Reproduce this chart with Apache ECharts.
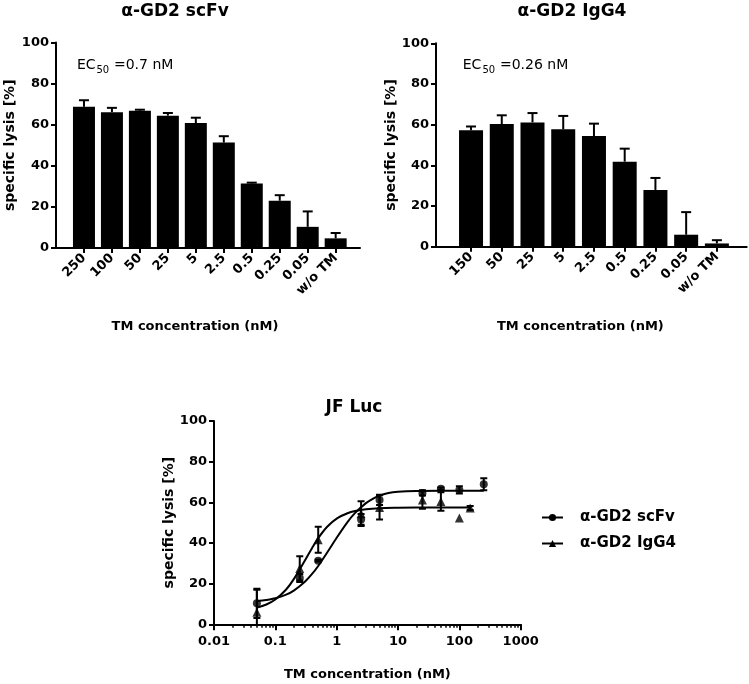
<!DOCTYPE html>
<html>
<head>
<meta charset="utf-8">
<script src="https://cdn.jsdelivr.net/npm/echarts@6/dist/echarts.min.js"></script>
<style>html,body{margin:0;padding:0;background:#fff}#c{width:749px;height:684px}</style>
</head>
<body>
<div id="c"></div>
<script>
// ---- Data ----
const cats1 = ['250','100','50','25','5','2.5','0.5','0.25','0.05','w/o TM'];
const scfvMean = [68.7, 66.1, 66.8, 64.4, 60.8, 51.3, 31.4, 23.0, 10.3, 4.7];
const scfvErr  = [3.2, 2.1, 0.5, 1.3, 2.6, 3.1, 0.4, 2.7, 7.5, 2.6];

const cats2 = ['150','50','25','5','2.5','0.5','0.25','0.05','w/o TM'];
const iggMean = [57.2, 60.3, 61.1, 57.7, 54.4, 41.8, 27.9, 5.9, 1.6];
const iggErr  = [1.9, 4.3, 4.6, 6.6, 6.1, 6.4, 5.9, 11.1, 1.6];

const scfvX = [0.05, 0.25, 0.5, 2.5, 5, 25, 50, 100, 250];
const scfvY = [10.3, 22.8, 31.3, 51.6, 61.2, 64.6, 66.7, 66.1, 68.9];
const scfvE = [7.2, 2.0, 0.4, 2.6, 2.5, 1.3, 0.6, 1.8, 3.0];

const iggX = [0.05, 0.25, 0.5, 2.5, 5, 25, 50, 100, 150];
const iggY = [5.9, 27.5, 41.6, 54.4, 57.5, 61.1, 60.4, 52.3, 57.2];
const iggE = [11.1, 6.0, 6.4, 6.1, 6.0, 4.3, 4.6, 0, 1.0];

const scfvFit = [[0.05,11.3],[0.07,11.9],[0.1,12.8],[0.15,14.6],[0.2,16.6],[0.3,20.8],[0.4,24.9],[0.5,28.7],[0.7,35.3],[1,42.6],[1.5,50.3],[2,54.8],[3,59.6],[4,62.0],[5,63.3],[7,64.6],[10,65.2],[20,65.6],[50,65.7],[100,65.7],[250,65.7]];
const iggFit = [[0.05,8.2],[0.07,9.6],[0.1,12.2],[0.15,17.1],[0.2,22.2],[0.3,31.1],[0.4,37.7],[0.5,42.4],[0.7,48.0],[1,52.0],[1.5,54.6],[2,55.7],[3,56.6],[5,57.1],[10,57.3],[20,57.4],[50,57.4],[150,57.4]];

// ---- Styles ----
const FF = 'DejaVu Sans';
const lblStyle = {fontFamily: FF, fontWeight: 'bold', fontSize: 13, color: '#000'};
const nameStyle = {fontFamily: FF, fontWeight: 'bold', fontSize: 13, color: '#000'};
const axLine = {show: true, onZero: false, lineStyle: {color: '#000', width: 2}};
const tickStyle = {color: '#000', width: 2};

const idx1 = cats1.map((c, i) => i);
const idx2 = cats2.map((c, i) => i);

const minorTicks = [];
for (let k = -2; k <= 2; k++) for (let m = 2; m <= 9; m++) minorTicks.push(+(m * Math.pow(10, k)).toPrecision(3));

function barErr(capW) {
  return function (params, api) {
    const x = api.value(0), m = api.value(1), e = api.value(2);
    const p0 = api.coord([x, m]);
    const p1 = api.coord([x, m + e]);
    const st = {stroke: '#000', lineWidth: 2};
    return {type: 'group', children: [
      {type: 'line', shape: {x1: p0[0], y1: p0[1], x2: p1[0], y2: p1[1]}, style: st},
      {type: 'line', shape: {x1: p1[0] - capW / 2, y1: p1[1], x2: p1[0] + capW / 2, y2: p1[1]}, style: st}
    ]};
  };
}
function symErr(capW) {
  return function (params, api) {
    const x = api.value(0), m = api.value(1), e = api.value(2);
    if (!e) return null;
    const lo = api.coord([x, m - e]);
    const hi = api.coord([x, m + e]);
    const st = {stroke: '#000', lineWidth: 2};
    return {type: 'group', children: [
      {type: 'line', shape: {x1: lo[0], y1: lo[1], x2: hi[0], y2: hi[1]}, style: st},
      {type: 'line', shape: {x1: hi[0] - capW / 2, y1: hi[1], x2: hi[0] + capW / 2, y2: hi[1]}, style: st},
      {type: 'line', shape: {x1: lo[0] - capW / 2, y1: lo[1], x2: lo[0] + capW / 2, y2: lo[1]}, style: st}
    ]};
  };
}

function yAxisDef(grid, gap) {
  return {
    gridIndex: grid, type: 'value', min: 0, max: 100, interval: 20,
    axisLine: axLine, axisTick: {show: true, length: 5, lineStyle: tickStyle},
    axisLabel: Object.assign({margin: 7}, lblStyle), splitLine: {show: false},
    name: 'specific lysis [%]', nameLocation: 'middle', nameGap: gap, nameTextStyle: Object.assign({}, nameStyle, {fontSize: 14})
  };
}

function txt(x, y, s, size, weight, align) {
  return {type: 'text', x: x, y: y, style: {text: s, fontFamily: FF, fontSize: size, fontWeight: weight, fill: '#000', align: align || 'left', verticalAlign: 'middle'}};
}

const option = {
  animation: false,
  backgroundColor: '#fff',
  grid: [
    {left: 56, top: 42.5, width: 304, height: 205.5, outerBoundsMode: 'none'},
    {left: 436, top: 43.3, width: 310.7, height: 203.4, outerBoundsMode: 'none'},
    {left: 214, top: 421, width: 306.7, height: 203.3, outerBoundsMode: 'none'}
  ],
  xAxis: [
    {gridIndex: 0, type: 'value', min: -1, max: 9.87,
      axisLine: axLine, axisTick: {show: true, customValues: idx1, length: 5, lineStyle: tickStyle},
      axisLabel: Object.assign({customValues: idx1, rotate: 45, margin: 8, formatter: v => cats1[Math.round(v)] || ''}, lblStyle),
      splitLine: {show: false},
      name: 'TM concentration (nM)', nameLocation: 'middle', nameGap: 72,
      nameTextStyle: Object.assign({padding: [0, 26, 0, 0]}, nameStyle)},
    {gridIndex: 1, type: 'value', min: -1.14, max: 8.97,
      axisLine: axLine, axisTick: {show: true, customValues: idx2, length: 5, lineStyle: tickStyle},
      axisLabel: Object.assign({customValues: idx2, rotate: 45, margin: 8, formatter: v => cats2[Math.round(v)] || ''}, lblStyle),
      splitLine: {show: false},
      name: 'TM concentration (nM)', nameLocation: 'middle', nameGap: 73,
      nameTextStyle: Object.assign({padding: [0, 22, 0, 0]}, nameStyle)},
    {gridIndex: 2, type: 'log', logBase: 10, min: 0.01, max: 1000, position: 'bottom',
      axisLine: axLine, axisTick: {show: true, length: 6, lineStyle: tickStyle},
      axisLabel: Object.assign({margin: 11, formatter: v => String(v)}, lblStyle),
      splitLine: {show: false}, minorTick: {show: false},
      name: 'TM concentration (nM)', nameLocation: 'middle', nameGap: 44, nameTextStyle: nameStyle},
    {gridIndex: 2, type: 'log', logBase: 10, min: 0.01, max: 1000, position: 'bottom',
      axisLine: {show: false}, axisLabel: {show: false}, splitLine: {show: false},
      axisTick: {show: true, customValues: minorTicks, length: 3.5, lineStyle: {color: '#000', width: 1.5}}}
  ],
  yAxis: [yAxisDef(0, 39), yAxisDef(1, 34), yAxisDef(2, 38)],
  legend: {
    data: ['α-GD2 scFv', 'α-GD2 IgG4'], orient: 'vertical', left: 536, top: 505,
    itemWidth: 21, itemHeight: 9, itemGap: 11, selectedMode: false,
    textStyle: {fontFamily: FF, fontWeight: 'bold', fontSize: 15, color: '#000', padding: [0, 0, 0, 12]}
  },
  series: [
    {type: 'bar', xAxisIndex: 0, yAxisIndex: 0, barWidth: 22, itemStyle: {color: '#000'},
      data: scfvMean.map((m, i) => [i, m])},
    {type: 'custom', xAxisIndex: 0, yAxisIndex: 0, z: 3, renderItem: barErr(10), encode: {x: 0, y: 1},
      data: scfvMean.map((m, i) => [i, m, scfvErr[i]])},
    {type: 'bar', xAxisIndex: 1, yAxisIndex: 1, barWidth: 24, itemStyle: {color: '#000'},
      data: iggMean.map((m, i) => [i, m])},
    {type: 'custom', xAxisIndex: 1, yAxisIndex: 1, z: 3, renderItem: barErr(10), encode: {x: 0, y: 1},
      data: iggMean.map((m, i) => [i, m, iggErr[i]])},
    {type: 'line', name: 'α-GD2 scFv', xAxisIndex: 2, yAxisIndex: 2, data: scfvFit, symbol: 'circle',
      showSymbol: false, smooth: 0.3, color: '#000', lineStyle: {color: '#000', width: 2}, itemStyle: {color: '#000'}},
    {type: 'line', name: 'α-GD2 IgG4', xAxisIndex: 2, yAxisIndex: 2, data: iggFit, symbol: 'triangle',
      showSymbol: false, smooth: 0.3, color: '#000', lineStyle: {color: '#000', width: 2}, itemStyle: {color: '#000'}},
    {type: 'custom', xAxisIndex: 2, yAxisIndex: 2, clip: true, z: 3, renderItem: symErr(7), encode: {x: 0, y: 1},
      data: scfvX.map((x, i) => [x, scfvY[i], scfvE[i]])},
    {type: 'custom', xAxisIndex: 2, yAxisIndex: 2, clip: true, z: 3, renderItem: symErr(7), encode: {x: 0, y: 1},
      data: iggX.map((x, i) => [x, iggY[i], iggE[i]])},
    {type: 'scatter', xAxisIndex: 2, yAxisIndex: 2, symbol: 'circle', symbolSize: 8, z: 4,
      itemStyle: {color: '#000'}, data: scfvX.map((x, i) => [x, scfvY[i]])},
    {type: 'scatter', xAxisIndex: 2, yAxisIndex: 2, symbol: 'triangle', symbolSize: 9, z: 4,
      itemStyle: {color: '#000'}, data: iggX.map((x, i) => [x, iggY[i]])}
  ],
  graphic: [
    txt(175, 12, 'α-GD2 scFv', 17, 'bold', 'center'),
    txt(572, 12, 'α-GD2 IgG4', 17, 'bold', 'center'),
    txt(354, 408, 'JF Luc', 17, 'bold', 'center'),
    txt(77, 65, 'EC', 14, 'normal'),
    txt(96.5, 70, '50', 10, 'normal'),
    txt(109.5, 65, ' =0.7 nM', 14, 'normal'),
    txt(462.7, 65, 'EC', 14, 'normal'),
    txt(482.5, 70, '50', 10, 'normal'),
    txt(495.5, 65, ' =0.26 nM', 14, 'normal')
  ]
};

const chart = echarts.init(document.getElementById('c'), null, {renderer: 'canvas'});
chart.setOption(option);
</script>
</body>
</html>
